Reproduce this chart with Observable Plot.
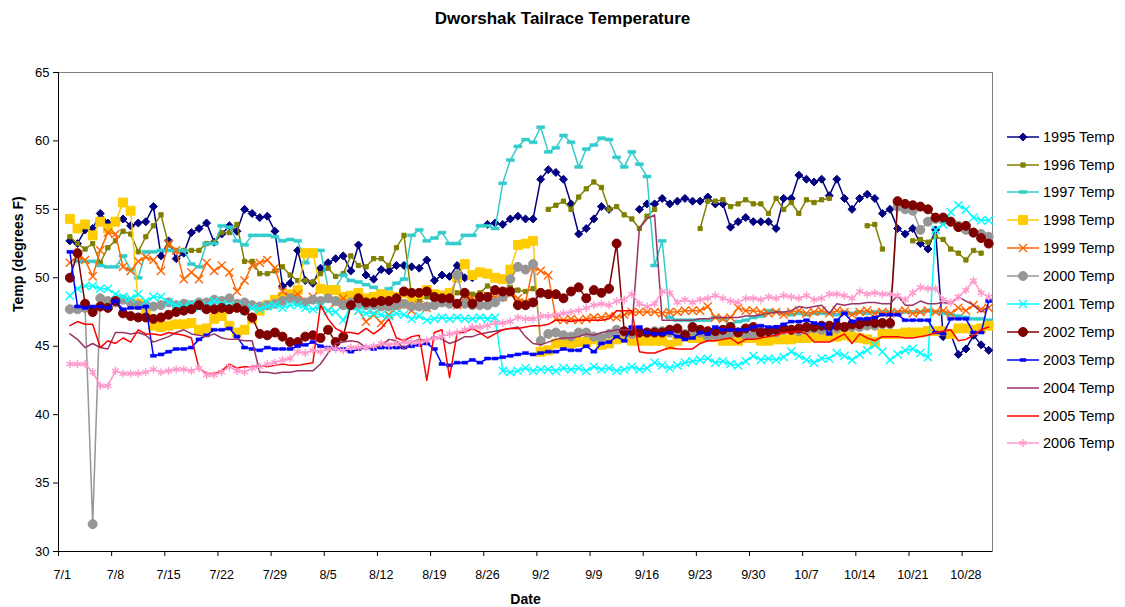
<!DOCTYPE html>
<html><head><meta charset="utf-8">
<script src="https://cdn.jsdelivr.net/npm/d3@7"></script>
<script src="https://cdn.jsdelivr.net/npm/@observablehq/plot@0.6"></script>
<style>
body{margin:0;background:#fff;font-family:"Liberation Sans",Arial,sans-serif;}
#wrap{position:relative;width:1125px;height:607px;overflow:hidden;background:#fff;}
#title{position:absolute;left:0;top:0;width:1125px;height:40px;text-align:center;font-weight:bold;font-size:17px;line-height:38px;color:#000;}
#chart{position:absolute;left:0;top:40px;}
#legend{position:absolute;left:1005px;top:122.7px;}
.item{display:flex;align-items:center;height:27.9px;font-size:14.5px;color:#000;white-space:nowrap;}
.item span{margin-left:2px;}
</style></head><body>
<div id="wrap"><div id="title">Dworshak Tailrace Temperature</div><div id="chart"></div><div id="legend"></div></div>
<script>
// x index = days since 7/1 (category i is drawn at the centre of its slot)
const tickLabels = ["7/1","7/8","7/15","7/22","7/29","8/5","8/12","8/19","8/26","9/2","9/9","9/16","9/23","9/30","10/7","10/14","10/21","10/28"];
const yTicks = [30,35,40,45,50,55,60,65];
const seriesNames = ["1995 Temp","1996 Temp","1997 Temp","1998 Temp","1999 Temp","2000 Temp","2001 Temp","2002 Temp","2003 Temp","2004 Temp","2005 Temp","2006 Temp"];

const s1995 = [null,
52.7,52.5,53.5,53.6,54.7,54.0,54.1,54.3,53.8,54.0,
54.1,55.2,51.6,52.7,51.4,51.8,53.3,53.6,54.0,52.6,
53.2,53.8,53.4,55.0,54.7,54.4,54.5,53.4,49.4,49.6,
52.0,49.8,49.6,50.7,51.1,51.4,51.6,50.5,52.4,50.2,
49.9,50.6,50.5,50.9,50.9,50.8,50.7,51.3,49.8,50.2,
50.1,50.9,50.0,50.0,null,53.9,54.0,53.9,54.3,54.5,
54.3,54.3,57.2,57.9,57.7,57.2,55.4,53.2,53.6,54.3,
55.2,55.0,null,null,null,55.0,55.4,55.4,55.8,55.4,
55.6,55.8,55.6,55.6,55.9,55.4,55.4,53.7,54.1,54.4,
54.1,54.1,54.1,53.6,55.8,55.8,57.5,57.2,57.0,57.2,
56.0,57.2,55.8,55.0,55.8,56.1,55.8,54.7,55.0,53.6,
53.2,53.6,52.5,52.1,53.5,45.7,45.9,44.4,44.8,45.8,
45.1,44.7];

const s1996 = [null,
53.0,52.5,52.1,52.5,51.1,52.2,52.7,53.4,53.2,51.9,
53.0,53.8,54.6,52.4,52.0,52.0,52.0,52.0,52.5,52.6,
53.3,53.3,53.9,51.2,51.2,50.3,50.3,50.5,50.8,50.2,
49.8,49.8,49.7,50.3,50.7,50.1,50.3,51.6,50.9,50.8,
51.4,51.4,50.9,52.2,53.1,48.6,48.4,48.6,48.3,48.5,
48.7,48.9,48.6,48.8,48.9,49.4,49.2,49.0,49.3,49.1,
49.0,49.2,null,55.0,55.3,55.6,55.0,55.9,56.5,57.0,
56.6,55.0,55.2,54.6,54.3,53.6,54.5,55.0,null,null,
null,null,null,53.6,55.6,55.6,55.7,55.2,55.4,55.7,
55.4,55.4,54.7,55.8,55.0,55.5,54.7,55.7,55.5,55.7,
55.8,null,null,null,null,53.8,53.9,52.1,null,null,
null,52.7,52.8,52.6,53.0,52.8,52.1,51.8,51.3,52.0,
51.8,null];

const s1997 = [null,null,
51.2,51.2,51.2,50.9,50.8,50.8,51.6,50.6,50.0,
51.9,51.9,52.0,52.0,52.0,52.0,51.0,50.8,52.5,52.5,
53.8,53.7,52.7,52.4,53.1,53.1,53.1,53.0,52.7,52.8,
52.7,51.1,51.9,52.0,49.3,49.3,50.2,49.8,49.7,49.5,
49.3,49.0,49.2,49.6,49.9,53.1,53.5,52.7,52.9,53.3,
52.5,52.5,53.1,53.1,53.8,53.8,53.6,56.9,58.6,59.6,
60.1,59.9,61.0,59.2,59.5,60.4,59.9,58.1,59.4,59.7,
60.2,60.1,58.8,58.1,59.2,58.3,57.4,50.9,52.7,47.1,
46.9,46.9,46.9,46.9,46.9,47.1,47.0,46.6,46.8,46.9,
47.1,47.2,47.6,47.5,47.4,47.3,47.4,47.3,47.4,47.4,
47.4,47.3,47.5,47.4,47.5,47.4,47.5,47.5,47.5,47.5,
47.5,47.5,47.5,47.6,47.5,47.4,47.3,47.2,47.1,47.0,
47.0,46.9];

const s1998 = [null,
54.3,53.6,53.9,53.1,54.1,53.6,54.1,55.5,54.9,48.1,
47.4,46.5,46.4,46.5,46.6,46.6,46.7,46.2,46.3,47.0,
47.2,46.5,46.0,46.2,47.0,47.6,48.0,48.4,48.6,48.8,
49.1,51.8,51.8,49.2,49.1,49.1,48.6,48.7,48.9,48.5,
48.6,48.8,48.7,48.6,48.9,48.5,48.8,49.1,48.8,48.7,
48.9,50.0,51.0,50.2,50.4,50.3,50.0,49.9,50.6,52.4,
52.5,52.7,44.6,44.7,45.2,45.2,45.2,45.3,45.3,45.5,
45.1,45.2,45.5,45.6,45.4,45.4,45.4,45.4,45.4,45.1,
45.4,45.7,45.6,45.6,45.7,45.7,45.4,45.4,45.4,45.6,
45.6,45.4,45.4,45.5,45.5,45.5,45.6,45.6,45.7,45.7,
45.7,45.7,45.8,45.7,45.6,45.5,45.3,45.9,45.9,45.9,
46.0,46.0,46.0,46.1,46.1,46.1,45.9,46.3,46.3,46.2,
46.3,46.5];

const s1999 = [null,
51.1,51.6,51.3,50.1,52.0,53.3,53.2,50.8,50.5,51.2,
51.5,51.3,50.5,52.5,52.0,49.9,50.4,49.9,51.1,50.5,
50.9,50.4,49.0,49.8,50.9,51.1,51.3,50.7,49.0,48.6,
48.8,48.3,48.6,48.0,47.6,48.2,48.5,48.0,47.6,46.8,
47.3,46.7,47.3,47.8,48.0,47.6,48.0,47.8,48.2,48.3,
48.4,48.0,48.6,48.5,48.2,48.7,48.6,48.6,48.8,48.5,
48.2,50.8,50.5,50.2,47.0,46.9,47.0,46.9,47.0,47.1,
47.1,47.2,47.1,47.3,47.5,47.5,47.5,47.5,47.4,47.5,
47.5,47.6,47.6,47.6,47.9,47.1,47.0,47.1,47.8,47.6,
47.6,47.5,47.4,47.5,47.3,47.5,47.6,47.4,47.5,47.6,
47.4,47.6,47.5,47.3,47.5,47.6,47.4,47.5,47.4,47.5,
47.6,47.4,47.5,47.6,47.5,47.6,47.4,47.8,47.6,48.0,
47.7,47.8];

const s2000 = [null,
47.7,47.7,47.8,32.0,48.5,48.3,48.2,48.4,48.2,48.0,
48.0,47.9,48.0,48.2,48.0,48.1,48.0,48.2,48.2,48.4,
48.3,48.5,48.1,48.2,48.0,47.9,48.0,48.1,48.3,48.5,
48.3,48.2,48.4,48.3,48.5,48.3,48.0,48.2,48.1,48.0,
48.0,47.9,47.9,48.0,48.1,47.9,47.9,47.9,48.0,48.2,
48.1,50.2,48.1,48.0,48.0,48.0,48.2,48.6,49.9,50.8,
50.6,51.0,45.4,45.9,46.0,45.8,45.7,46.0,46.0,45.7,
45.6,45.9,46.2,46.0,45.9,46.0,46.0,46.1,46.1,46.0,
46.0,45.9,46.1,46.0,45.7,45.8,45.8,45.9,46.0,45.8,
45.8,46.1,46.0,46.0,46.2,46.2,46.1,46.2,46.3,46.2,
46.3,46.3,46.4,46.4,46.4,46.5,46.5,46.6,46.6,55.2,
55.0,54.9,53.5,54.1,54.3,54.2,54.1,53.8,53.5,53.3,
53.2,53.0];

const s2001 = [null,
48.7,49.2,49.4,49.4,49.2,49.2,48.8,48.6,48.5,48.8,
48.3,48.6,48.6,48.2,48.0,47.9,48.1,47.8,48.0,48.3,
48.1,48.0,47.9,47.6,47.8,47.7,47.9,48.0,47.8,48.0,
48.0,47.8,47.7,47.9,47.6,47.5,46.9,47.9,47.6,47.4,
47.4,47.3,47.2,47.4,47.3,47.0,47.2,46.9,47.0,47.1,
47.0,47.1,47.0,47.0,47.1,47.0,47.1,43.2,43.1,43.2,
43.4,43.2,43.3,43.3,43.2,43.4,43.3,43.4,43.2,43.5,
43.3,43.4,43.2,43.3,43.5,43.3,43.4,43.8,43.6,43.4,
43.6,43.8,43.9,44.0,44.1,43.8,43.9,43.7,43.6,43.9,
44.3,44.0,44.1,44.0,44.2,44.6,44.3,44.0,43.8,44.1,
44.1,44.5,44.3,44.0,44.4,44.7,45.1,44.6,44.0,44.4,
44.7,44.8,44.5,44.2,53.5,53.9,54.8,55.3,55.0,54.4,
54.2,54.2];

const s2002 = [null,
50.0,51.8,48.1,47.5,47.9,47.8,48.3,47.4,47.2,47.1,
47.1,47.0,47.1,47.3,47.5,47.6,47.7,48.0,47.7,47.7,
47.8,47.7,47.8,47.6,47.1,45.9,45.8,46.0,45.7,45.3,
45.3,45.7,45.8,45.6,46.2,45.3,45.7,48.0,48.5,48.2,
48.2,48.3,48.3,48.5,49.0,48.9,48.9,49.0,48.6,48.5,
48.5,48.1,48.9,48.1,48.6,48.6,49.1,49.0,49.0,48.0,
48.0,48.2,48.9,48.8,48.8,48.5,49.0,49.3,48.5,49.1,
48.9,49.2,52.5,46.1,46.1,46.0,46.0,46.0,46.0,46.2,
46.3,45.8,46.4,46.2,46.1,46.1,46.2,46.4,46.0,46.3,
46.4,46.0,46.1,46.2,46.3,46.2,46.3,46.4,46.4,46.5,
46.5,46.5,46.4,46.6,46.6,46.8,46.7,46.7,46.7,55.6,
55.4,55.3,55.2,55.0,54.4,54.4,54.1,53.7,53.8,53.3,
52.9,52.5];

const s2003 = [null,
51.9,47.9,47.8,47.9,47.9,47.8,48.3,47.7,47.8,47.8,
47.9,44.3,44.4,44.6,44.8,44.8,44.9,45.5,45.8,46.2,
46.2,46.3,45.7,44.9,44.8,44.7,44.9,44.8,44.8,44.8,
45.0,45.1,45.3,45.0,44.9,44.8,44.8,44.6,44.8,44.9,
44.8,44.9,44.9,44.9,44.9,45.0,45.1,45.2,44.8,43.7,
43.6,43.8,43.8,44.0,43.8,44.1,44.1,44.2,44.3,44.4,
44.5,44.4,44.5,44.6,44.6,44.8,44.7,44.7,45.0,44.6,
45.2,45.3,45.7,45.4,46.4,46.4,46.0,45.9,45.9,46.0,
45.7,45.5,45.6,46.0,45.9,46.4,46.2,46.2,46.2,46.2,
46.4,46.5,46.4,46.4,46.6,46.8,46.8,46.9,46.7,46.6,
45.9,46.9,47.4,46.8,47.0,47.0,47.1,47.3,47.3,47.3,
46.9,46.9,46.9,46.9,46.0,45.9,47.0,47.0,47.0,46.0,
46.0,48.3];

const s2004 = [null,
45.9,45.5,44.9,45.2,44.9,44.8,46.0,46.0,45.9,46.0,
45.8,45.3,45.5,45.7,46.0,46.2,45.9,45.8,45.7,45.9,
45.6,45.5,45.5,45.4,45.4,43.1,43.1,43.0,43.1,43.1,
43.2,43.2,43.2,43.7,44.5,45.2,45.3,45.4,45.3,44.9,
44.9,45.0,45.5,45.4,44.8,45.3,45.5,45.4,45.7,45.5,
45.2,45.4,45.7,45.7,45.9,46.0,46.1,46.2,46.3,46.4,
45.7,45.2,45.1,45.3,45.5,45.6,45.6,45.7,45.9,45.8,
46.0,46.1,46.2,46.2,46.2,53.6,54.3,54.6,46.9,46.9,
46.9,46.9,46.9,47.0,47.0,47.1,47.1,47.1,47.1,47.2,
47.2,47.3,47.4,47.5,47.5,47.6,47.9,47.8,47.9,48.0,
47.4,48.1,48.0,48.1,48.1,48.2,48.2,48.1,48.1,48.7,
48.0,48.0,48.3,48.1,48.1,48.2,48.1,48.6,48.3,48.0,
47.5,47.9];

const s2005 = [null,
46.5,46.8,46.6,46.6,44.9,45.4,45.2,45.6,45.3,46.2,
45.9,45.9,45.8,46.0,45.9,45.8,45.6,43.4,43.0,43.0,
43.2,43.7,43.4,43.5,43.5,43.6,43.5,43.6,43.7,43.6,
43.6,43.7,43.8,48.0,47.0,46.3,46.0,46.0,45.9,46.3,
45.9,46.3,47.0,45.6,45.4,45.7,45.8,42.5,46.0,46.2,
42.7,46.0,46.0,46.3,46.0,45.6,45.9,46.2,46.3,46.3,
46.4,46.5,46.5,46.6,46.9,46.9,46.8,46.9,46.9,46.9,
46.9,47.0,47.6,47.6,47.6,44.6,44.5,44.5,44.7,44.9,
44.8,44.8,44.8,45.2,45.4,45.4,45.5,45.6,45.2,45.5,
45.5,45.6,45.7,45.8,46.0,46.0,46.1,45.9,45.3,45.3,
45.3,45.6,45.9,45.2,45.9,45.6,45.4,45.7,45.7,45.7,
45.6,45.6,45.7,45.8,46.0,46.1,46.2,45.4,45.5,45.8,
46.2,46.4];

const s2006 = [null,
43.7,43.7,43.7,43.1,42.1,42.1,43.2,43.0,43.0,43.0,
43.1,43.3,43.1,43.2,43.3,43.3,43.2,43.4,42.9,42.9,
43.1,43.5,43.2,43.1,43.4,43.5,43.7,43.8,44.0,44.1,
44.6,44.5,44.7,44.6,44.8,44.8,44.7,44.9,44.9,44.9,
45.0,45.2,45.1,45.2,45.3,45.3,45.3,45.4,45.6,45.7,
45.9,46.0,46.2,46.4,46.4,46.5,46.7,46.7,46.8,47.1,
47.0,47.0,47.2,47.2,47.3,47.4,47.5,47.6,47.8,48.0,
48.1,48.0,48.3,48.4,48.8,48.1,47.9,48.1,49.0,48.9,
48.2,48.4,48.2,48.4,48.5,48.7,48.5,48.3,48.2,48.5,
48.5,48.4,48.6,48.5,48.7,48.6,48.5,48.7,48.4,48.5,
48.8,48.8,48.7,48.5,49.0,48.8,48.9,48.8,48.8,48.7,
48.4,48.9,49.3,49.2,49.2,48.4,48.2,48.6,49.1,49.8,
48.9,48.6];

// ---------- styles ----------
const dash = (w, h) => ({draw(ctx) { ctx.rect(-w / 2, -h / 2, w, h); }});
const seriesValues = [s1995,s1996,s1997,s1998,s1999,s2000,s2001,s2002,s2003,s2004,s2005,s2006];
const styles = [
  {color:"#000080", sym:d3.symbolDiamond2, r:3.6, fill:"#000080", stroke:"#000080", sw:1},
  {color:"#808000", sym:d3.symbolSquare, r:2.4, fill:"#808000", stroke:"#808000", sw:1},
  {color:"#33CCCC", sym:dash(8,3), r:3, fill:"#33CCCC", stroke:"#33CCCC", sw:0.5},
  {color:"#FFCC00", sym:d3.symbolSquare, r:5, fill:"#FFCC00", stroke:"#FFCC00", sw:1},
  {color:"#FF6600", sym:d3.symbolTimes, r:3.8, fill:"none", stroke:"#FF6600", sw:1.4},
  {color:"#969696", sym:d3.symbolCircle, r:4.5, fill:"#969696", stroke:"#969696", sw:1},
  {color:"#00FFFF", sym:d3.symbolTimes, r:3.8, fill:"none", stroke:"#00FFFF", sw:1.4},
  {color:"#800000", sym:d3.symbolCircle, r:4.5, fill:"#800000", stroke:"#800000", sw:1},
  {color:"#0000FF", sym:dash(6,3), r:3, fill:"#0000FF", stroke:"#0000FF", sw:0.5},
  {color:"#993366", sym:null},
  {color:"#FF0000", sym:null},
  {color:"#FF99CC", sym:d3.symbolAsterisk, r:3.8, fill:"none", stroke:"#FF99CC", sw:1.4}
];

const series = seriesValues.map((vals, k) => ({
  name: seriesNames[k],
  data: vals.map((v, i) => ({x: i + 0.5, v})),
  ...styles[k]
}));

const weekTicks = tickLabels.map((_, k) => k * 7);
const labelTicks = weekTicks.map(d => d + 0.5);
const labelOf = new Map(labelTicks.map((d, k) => [d, tickLabels[k]]));

const marks = [
  Plot.frame({stroke: "#808080"}),
  Plot.axisY(yTicks, {tickSize: 5, tickPadding: 4, fontSize: 13, stroke: "black", label: null}),
  Plot.axisX(weekTicks, {tickSize: 5, tickFormat: () => "", stroke: "black", label: null}),
  Plot.axisX(labelTicks, {tickSize: 0, tickPadding: 19, tickFormat: d => labelOf.get(d), fontSize: 12.5, label: null}),
  Plot.text(["Temp (degrees F)"], {text: d => d, frameAnchor: "left", dx: -40, rotate: -90, fontWeight: "bold", fontSize: 14}),
  Plot.text(["Date"], {text: d => d, frameAnchor: "bottom", dy: 48, lineAnchor: "middle", fontWeight: "bold", fontSize: 14})
];
for (const s of series) {
  marks.push(Plot.line(s.data, {x: "x", y: "v", stroke: s.color, strokeWidth: 1.5}));
  if (s.sym) marks.push(Plot.dot(s.data.filter(d => d.v != null), {x: "x", y: "v", symbol: s.sym, r: s.r, fill: s.fill, stroke: s.stroke, strokeWidth: s.sw}));
}
marks.push(Plot.ruleX([0], {stroke: "black"}));
marks.push(Plot.ruleY([30], {stroke: "black"}));

const chart = Plot.plot({
  width: 1000, height: 567,
  marginLeft: 58, marginRight: 8, marginTop: 32, marginBottom: 56,
  x: {type: "linear", domain: [0, 123], label: null},
  y: {type: "linear", domain: [30, 65], label: null},
  style: {fontFamily: "'Liberation Sans', Arial, sans-serif", fontSize: "12px", background: "white", color: "black"},
  marks
});
document.getElementById("chart").appendChild(chart);

// legend (HTML, to the right of the plot)
const legend = d3.select("#legend");
for (const s of series) {
  const item = legend.append("div").attr("class", "item");
  const svg = item.append("svg").attr("width", 36).attr("height", 16);
  svg.append("line").attr("x1", 2).attr("x2", 34).attr("y1", 8).attr("y2", 8).attr("stroke", s.color).attr("stroke-width", 1.5);
  if (s.sym) svg.append("path").attr("transform", "translate(18,8)")
    .attr("d", d3.symbol(s.sym, Math.PI * s.r * s.r)())
    .attr("fill", s.fill).attr("stroke", s.stroke).attr("stroke-width", s.sw);
  item.append("span").text(s.name);
}
</script>
</body></html>
